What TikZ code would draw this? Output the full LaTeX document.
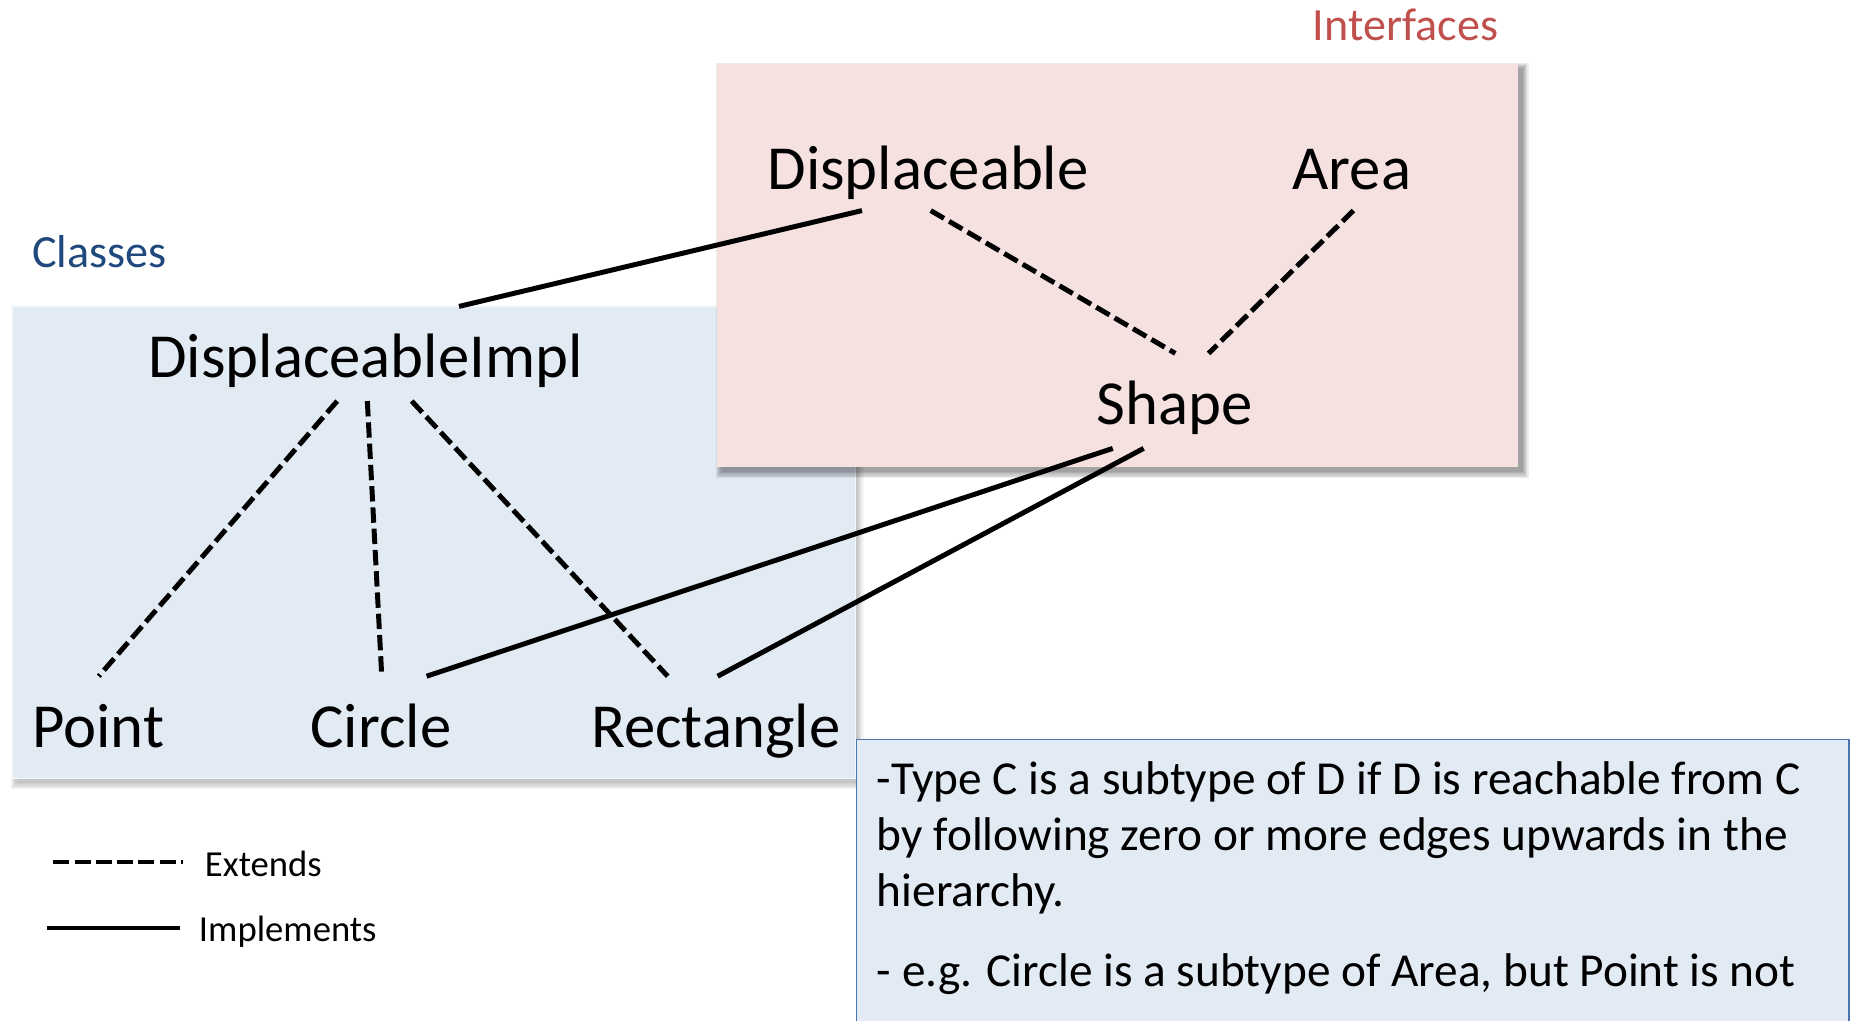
\documentclass[tikz,border=0pt]{standalone}
\usepackage{fontspec}
\setmainfont{Carlito}
\definecolor{ifacefill}{HTML}{F4E1E0}
\definecolor{classfill}{HTML}{E2EAF4}
\definecolor{noteedge}{HTML}{4A76B0}
\definecolor{ifacetitle}{HTML}{C0504D}
\definecolor{classtitle}{HTML}{1F497D}
% soft drop shadow: corners, then strength of each layer
\newcommand\softshadow[5]{%
  \foreach \s in {5,4,...,0}{%
    \fill[black,opacity=#5] (#1+4-\s,#2+4-\s) rectangle (#3+4+\s,#4+4+\s);}}
\begin{document}
\begin{tikzpicture}[x=1pt,y=-1pt,
  typename/.style={font=\fontsize{53}{64}\selectfont,inner sep=0pt,anchor=base},
  grouptitle/.style={font=\fontsize{39}{47}\selectfont,inner sep=0pt,anchor=base},
  notetext/.style={font=\fontsize{40}{48}\selectfont,inner sep=0pt,anchor=base west},
  legendtext/.style={font=\fontsize{31}{37}\selectfont,inner sep=0pt,anchor=base west},
  impl/.style={line width=4.2pt},
  ext/.style={line width=4.2pt,dash pattern=on 13pt off 5pt},
  legendimpl/.style={line width=3.4pt},
  legendext/.style={line width=3.4pt,dash pattern=on 13.5pt off 4.5pt}]

% page frame
\useasboundingbox (0,0) rectangle (1568,863);
\fill[white] (0,0) rectangle (1568,863);

% class area
\softshadow{10}{259}{721}{658}{0.04}
\filldraw[fill=classfill,draw=white!70!classfill,line width=1.2pt] (10,259) rectangle (723,658);

% interface area
\softshadow{606}{54}{1283}{395}{0.07}
\fill[ifacefill] (606,54) rectangle (1283,395);

% note box
\filldraw[fill=classfill,draw=noteedge,line width=1.5pt] (724,625) rectangle (1563,880);

% group titles
\node[grouptitle,text=ifacetitle] (ifacetitle) at (1188,34.5) {Interfaces};
\node[grouptitle,text=classtitle,anchor=base west] (classtitle) at (27,226.5) {Classes};

% type names
\node[typename] (displ) at (784.5,160) {Displaceable};
\node[typename] (area)  at (1142.7,160) {Area};
\node[typename] (shape) at (993,359) {Shape};
\node[typename] (dimpl) at (309,319) {DisplaceableImpl};
\node[typename] (point) at (83,632) {Point};
\node[typename] (circle) at (322,632) {Circle};
\node[typename] (rect) at (605,632) {Rectangle};

% connector end points
\coordinate (displ-dimpl) at (728.6,178);
\coordinate (displ-shape) at (786.7,178);
\coordinate (area-shape)  at (1144,178);
\coordinate (shape-displ) at (993.5,298.7);
\coordinate (shape-area)  at (1021.6,298.7);
\coordinate (shape-circle) at (940.6,379);
\coordinate (shape-rect)  at (966.7,379);
\coordinate (dimpl-displ) at (388,259);
\coordinate (dimpl-point) at (285,339);
\coordinate (dimpl-circle) at (310.5,339);
\coordinate (dimpl-rect)  at (348,339);
\coordinate (point-dimpl) at (83.5,571.6);
\coordinate (circle-dimpl) at (322.7,571.6);
\coordinate (circle-shape) at (360.6,571.6);
\coordinate (rect-dimpl)  at (564.4,571.6);
\coordinate (rect-shape)  at (606.6,571.6);

% implements
\draw[impl] (displ-dimpl) -- (dimpl-displ);
\draw[impl] (shape-circle) -- (circle-shape);
\draw[impl] (shape-rect) -- (rect-shape);

% extends
\draw[ext] (displ-shape) -- (shape-displ);
\draw[ext] (area-shape) -- (shape-area);
\draw[ext] (dimpl-point) -- (point-dimpl);
\draw[ext] (dimpl-circle) -- (circle-dimpl);
\draw[ext] (dimpl-rect) -- (rect-dimpl);

% legend
\coordinate (lg-ext-a) at (45,729);
\coordinate (lg-ext-b) at (155,729);
\coordinate (lg-impl-a) at (40,784);
\coordinate (lg-impl-b) at (152,784);
\draw[legendext] (lg-ext-a) -- (lg-ext-b);
\draw[legendimpl] (lg-impl-a) -- (lg-impl-b);
\node[legendtext] (lg-ext) at (173,741) {Extends};
\node[legendtext] (lg-impl) at (168,796) {Implements};

% note text
\node[notetext] (note1) at (741,671.5) {-Type C is a subtype of D if D is reachable from C};
\node[notetext] (note2) at (741,719) {by following zero or more edges upwards in the};
\node[notetext] (note3) at (741,766.5) {hierarchy.};
\node[notetext] (note4) at (741,834) {- e.g. Circle is a subtype of Area, but Point is not};
\end{tikzpicture}
\end{document}
